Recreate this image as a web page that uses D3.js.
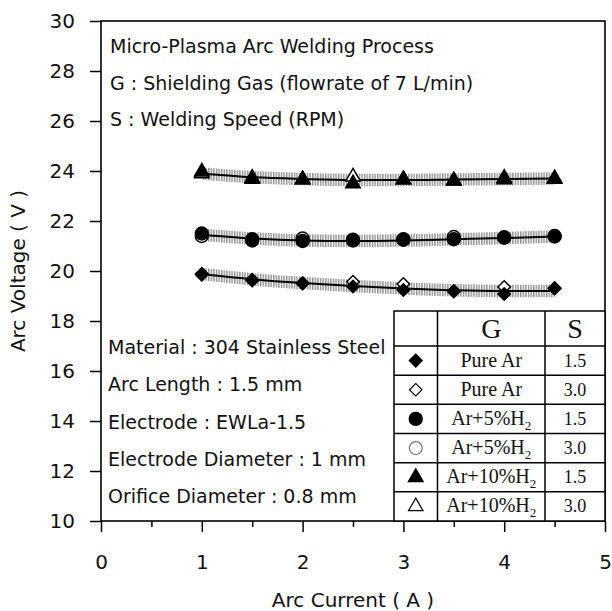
<!DOCTYPE html>
<html>
<head>
  <style>
    body{
      margin:0;
      background:#fff;
    }
    .tick text{
      font-family: "DejaVu Sans", sans-serif;
      font-size: 20px;
      fill:#111;
    }
    .tick line{
      stroke:#000;
      stroke-width:1.5px;
    }
    .note{
      font-family: "DejaVu Sans", sans-serif;
      font-size: 19px;
      fill:#111;
    }
    .axis-title{
      font-family: "DejaVu Sans", sans-serif;
      font-size: 20px;
      fill:#111;
    }
    .fit-line{
      fill:none;
      stroke:#000;
      stroke-width:2px;
    }
    .legend-text{
      font-family: "Liberation Serif", "Times New Roman", serif;
      fill:#111;
    }
    .legend-line{
      stroke:#000;
      stroke-width:1.5px;
    }
  </style>
  <script src="https://d3js.org/d3.v7.min.js"></script>
</head>
<body>
<div class="chart"></div>
<script>
// arc current (A)
const current = [1, 1.5, 2, 2.5, 3, 3.5, 4, 4.5];

// arc voltage (V)
const pureAr15 = [19.89, 19.65, 19.52, 19.38, 19.24, 19.18, 19.08, 19.32];
const pureAr30 = [19.85, 19.62, 19.50, 19.57, 19.48, 19.20, 19.36, 19.30];
const h5_15 = [21.50, 21.27, 21.20, 21.25, 21.27, 21.27, 21.35, 21.40];
const h5_30 = [21.40, 21.22, 21.30, 21.22, 21.25, 21.36, 21.33, 21.38];
const h10_15 = [23.97, 23.68, 23.66, 23.50, 23.66, 23.61, 23.66, 23.70];
const h10_30 = [23.90, 23.72, 23.66, 23.77, 23.66, 23.62, 23.72, 23.68];

// fitted lines through each gas group
const fitPureAr = [19.88, 19.67, 19.52, 19.40, 19.30, 19.23, 19.20, 19.20];
const fitH5 = [21.45, 21.30, 21.22, 21.20, 21.22, 21.27, 21.32, 21.38];
const fitH10 = [23.90, 23.75, 23.68, 23.64, 23.64, 23.66, 23.68, 23.70];

const xTicks = [0, 1, 2, 3, 4, 5];
const xMinorTicks = [0.5, 1.5, 2.5, 3.5, 4.5];
const yTicks = [10, 12, 14, 16, 18, 20, 22, 24, 26, 28, 30];

const topNotes = [
  'Micro-Plasma Arc Welding Process',
  'G : Shielding Gas (flowrate of 7 L/min)',
  'S : Welding Speed (RPM)'
];
const bottomNotes = [
  'Material : 304 Stainless Steel',
  'Arc Length : 1.5 mm',
  'Electrode : EWLa-1.5',
  'Electrode Diameter : 1 mm',
  'Orifice Diameter : 0.8 mm'
];

const series = [
  {gas:'Pure Ar', sub:false, speed:'1.5', shape:'diamond', filled:true, values:pureAr15},
  {gas:'Pure Ar', sub:false, speed:'3.0', shape:'diamond', filled:false, values:pureAr30},
  {gas:'Ar+5%H', sub:true, speed:'1.5', shape:'circle', filled:true, values:h5_15},
  {gas:'Ar+5%H', sub:true, speed:'3.0', shape:'circle', filled:false, values:h5_30},
  {gas:'Ar+10%H', sub:true, speed:'1.5', shape:'triangle', filled:true, values:h10_15},
  {gas:'Ar+10%H', sub:true, speed:'3.0', shape:'triangle', filled:false, values:h10_30}
];
const fits = [fitPureAr, fitH5, fitH10];

const width = 612;
const height = 611;
const margin = {left:101, right:7, top:21, bottom:90};

const svg = d3.select('.chart')
  .append('svg')
  .attr('width', width)
  .attr('height', height);

const x = d3.scaleLinear()
  .domain([0, 5])
  .range([margin.left, width - margin.right]);

const y = d3.scaleLinear()
  .domain([10, 30])
  .range([height - margin.bottom, margin.top]);

// hatch used for the scatter band
const defs = svg.append('defs');
const hatch = defs.append('pattern')
  .attr('id', 'hatch')
  .attr('patternUnits', 'userSpaceOnUse')
  .attr('width', 2.6)
  .attr('height', 6);
hatch.append('rect')
  .attr('x', 0).attr('y', 0)
  .attr('width', 1.4).attr('height', 6)
  .attr('fill', '#8f8f8f');

// bands + fitted lines
const band = d3.area()
  .x((d, i) => x(current[i]))
  .y0(d => y(d - 0.25))
  .y1(d => y(d + 0.25))
  .curve(d3.curveMonotoneX);

const line = d3.line()
  .x((d, i) => x(current[i]))
  .y(d => y(d))
  .curve(d3.curveMonotoneX);

fits.forEach(f => {
  svg.append('path')
    .attr('d', band(f))
    .attr('fill', 'url(#hatch)');
});
fits.forEach(f => {
  svg.append('path')
    .attr('d', line(f))
    .attr('class', 'fit-line');
});

// markers (diamond = square turned 45 degrees)
const shapeOf = {
  diamond: d3.symbol().type(d3.symbolSquare).size(78),
  circle: d3.symbol().type(d3.symbolCircle).size(130),
  triangle: d3.symbol().type(d3.symbolTriangle).size(90)
};
const turn = s => s.shape === 'diamond' ? ' rotate(45)' : '';

// open markers underneath, filled ones on top
const drawOrder = series.filter(s => !s.filled).concat(series.filter(s => s.filled));
drawOrder.forEach(s => {
  svg.append('g')
    .selectAll('path')
    .data(s.values)
    .join('path')
    .attr('transform', (d, i) => `translate(${x(current[i])},${y(d)})` + turn(s))
    .attr('d', shapeOf[s.shape]())
    .attr('fill', s.filled ? '#000' : '#fff')
    .attr('stroke', '#000')
    .attr('stroke-width', 1.5);
});

// axes
const xAxis = svg.append('g')
  .attr('transform', `translate(0,${y(10)})`)
  .call(d3.axisBottom(x).tickValues(xTicks).tickFormat(d3.format('d'))
    .tickSize(11).tickPadding(23).tickSizeOuter(0));
xAxis.select('.domain').remove();

const xMinor = svg.append('g')
  .attr('transform', `translate(0,${y(10)})`)
  .call(d3.axisBottom(x).tickValues(xMinorTicks).tickFormat('').tickSize(6));
xMinor.select('.domain').remove();

const yAxis = svg.append('g')
  .attr('transform', `translate(${x(0)},0)`)
  .call(d3.axisLeft(y).tickValues(yTicks).tickFormat(d3.format('d'))
    .tickSize(11).tickPadding(15).tickSizeOuter(0));
yAxis.select('.domain').remove();

// frame
svg.append('rect')
  .attr('x', x(0))
  .attr('y', y(30))
  .attr('width', x(5) - x(0))
  .attr('height', y(10) - y(30))
  .attr('fill', 'none')
  .attr('stroke', '#000')
  .attr('stroke-width', 1.6);

// axis titles
svg.append('text')
  .attr('class', 'axis-title')
  .attr('x', (x(0) + x(5)) / 2)
  .attr('y', 607)
  .attr('text-anchor', 'middle')
  .text('Arc Current ( A )');

svg.append('text')
  .attr('class', 'axis-title')
  .attr('transform', `translate(25,${(y(10) + y(30)) / 2}) rotate(-90)`)
  .attr('text-anchor', 'middle')
  .text('Arc Voltage ( V )');

// notes
svg.append('g')
  .selectAll('text')
  .data(topNotes)
  .join('text')
  .attr('class', 'note')
  .attr('x', 110)
  .attr('y', (d, i) => 53 + i * 36.5)
  .text(d => d);

svg.append('g')
  .selectAll('text')
  .data(bottomNotes)
  .join('text')
  .attr('class', 'note')
  .attr('x', 108)
  .attr('y', (d, i) => 354 + i * 37.3)
  .text(d => d);

// legend table
const tLeft = 394, tTop = 311, tRight = x(5), tBottom = y(10);
const col1 = 437.5, col2 = 545;
const headH = 35;
const rowH = (tBottom - tTop - headH) / series.length;

const legend = svg.append('g');
legend.append('rect')
  .attr('x', tLeft).attr('y', tTop)
  .attr('width', tRight - tLeft).attr('height', tBottom - tTop)
  .attr('fill', '#fff')
  .attr('class', 'legend-line');

[col1, col2].forEach(cx => {
  legend.append('line')
    .attr('class', 'legend-line')
    .attr('x1', cx).attr('x2', cx)
    .attr('y1', tTop).attr('y2', tBottom);
});
d3.range(series.length).forEach(i => {
  const ry = tTop + headH + i * rowH;
  legend.append('line')
    .attr('class', 'legend-line')
    .attr('x1', tLeft).attr('x2', tRight)
    .attr('y1', ry).attr('y2', ry);
});

legend.append('text')
  .attr('class', 'legend-text')
  .attr('x', (col1 + col2) / 2)
  .attr('y', tTop + 27)
  .attr('text-anchor', 'middle')
  .attr('font-size', 28)
  .text('G');
legend.append('text')
  .attr('class', 'legend-text')
  .attr('x', (col2 + tRight) / 2)
  .attr('y', tTop + 27)
  .attr('text-anchor', 'middle')
  .attr('font-size', 28)
  .text('S');

series.forEach((s, i) => {
  const cy = tTop + headH + (i + 0.5) * rowH;
  legend.append('path')
    .attr('transform', `translate(${(tLeft + col1) / 2},${cy})` + turn(s))
    .attr('d', shapeOf[s.shape]())
    .attr('fill', s.filled ? '#000' : '#fff')
    .attr('stroke', s.filled ? '#000' : (s.shape === 'circle' ? '#777' : '#000'))
    .attr('stroke-width', s.filled ? 1.5 : 1.2);

  const g = legend.append('text')
    .attr('class', 'legend-text')
    .attr('x', (col1 + col2) / 2)
    .attr('y', cy + 6)
    .attr('text-anchor', 'middle')
    .attr('font-size', 20);
  g.append('tspan').text(s.gas);
  if(s.sub){
    g.append('tspan')
      .attr('font-size', 13)
      .attr('dy', 5)
      .text('2');
  }

  legend.append('text')
    .attr('class', 'legend-text')
    .attr('x', (col2 + tRight) / 2)
    .attr('y', cy + 6)
    .attr('text-anchor', 'middle')
    .attr('font-size', 18)
    .text(s.speed);
});
</script>
</body>
</html>
